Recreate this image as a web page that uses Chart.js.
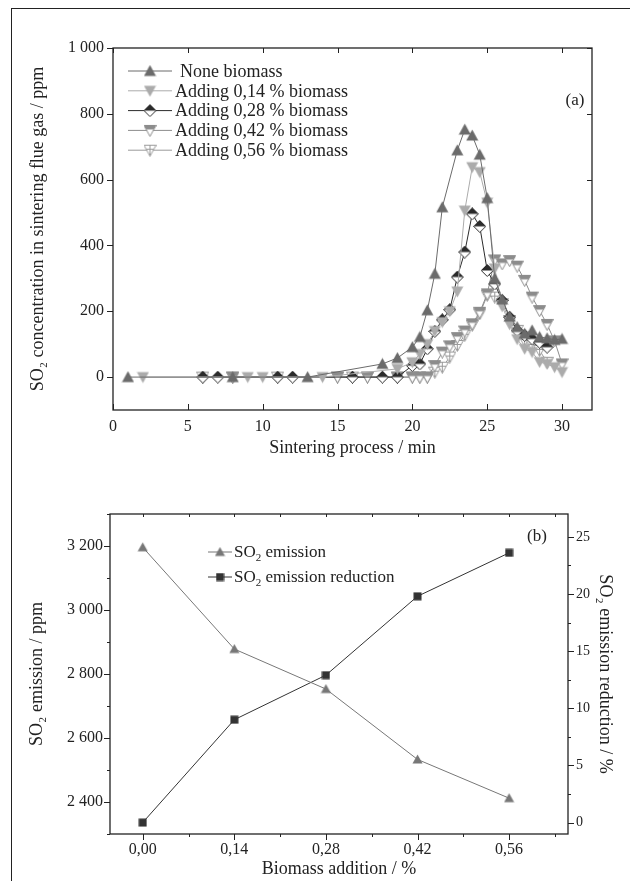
<!DOCTYPE html>
<html lang="en">
<head>
<meta charset="UTF-8">
<title>SO2 during sintering with biomass addition</title>
<style>
  body { margin: 0; background: #fff; }
  #page { position: relative; width: 630px; height: 881px; overflow: hidden; }
  #frame { position: absolute; left: 11px; top: 8px; width: 640px; height: 900px;
           border-left: 1.5px solid #222; border-top: 1.5px solid #222; }
  canvas { position: absolute; left: 0; }
  #chartA { top: 0; }
  #chartB { top: 470px; }
</style>
</head>
<body>
<div id="page">
  <div id="frame"></div>
  <canvas id="chartA" width="630" height="470"></canvas>
  <canvas id="chartB" width="630" height="411"></canvas>
</div>

<script src="https://cdn.jsdelivr.net/npm/chart.js"></script>
<script>
// (a) SO2 in sintering flue gas: time (min) / ppm, one pair of arrays per series
var noneT = [1, 8, 13, 18, 19, 20, 20.5, 21, 21.5, 22, 23, 23.5, 24, 24.5, 25, 25.5, 26, 26.5, 27, 27.5, 28, 28.5, 29, 29.5, 30];
var noneV = [0, 0, 0, 40, 58, 91, 122, 203, 314, 516, 689, 752, 734, 676, 544, 300, 236, 184, 152, 132, 142, 122, 118, 113, 116];

var add014T = [2, 9, 10, 14, 19, 20, 20.5, 21, 21.5, 22, 22.5, 23, 23.5, 24, 24.5, 25, 25.5, 26, 26.5, 27, 27.5, 28, 28.5, 29, 29.5, 30];
var add014V = [0, 0, 0, 0, 25, 45, 70, 100, 140, 167, 200, 260, 506, 638, 623, 530, 330, 215, 160, 115, 86, 76, 46, 40, 30, 15];

var add028T = [6, 7, 11, 12, 16, 18, 19, 20, 20.5, 21, 21.5, 22, 22.5, 23, 23.5, 24, 24.5, 25, 25.5, 26, 26.5, 27, 27.5, 28, 28.5, 29];
var add028V = [0, 0, 0, 0, 0, 0, 0, 35, 40, 86, 139, 174, 205, 304, 380, 496, 458, 324, 283, 233, 182, 142, 127, 116, 106, 91];

var add042T = [8, 15, 17, 19, 20, 20.5, 21, 21.5, 22, 22.5, 23, 23.5, 24, 24.5, 25, 25.5, 26, 26.5, 27, 27.5, 28, 28.5, 29, 29.5, 30];
var add042V = [0, 0, 0, 0, 0, 0, 0, 35, 76, 95, 120, 140, 162, 197, 253, 356, 344, 354, 337, 294, 243, 202, 160, 110, 40];

var add056T = [6, 8, 11, 15, 16, 17, 19, 20, 20.5, 21, 21.5, 22, 22.5, 23, 23.5, 24, 24.5, 25, 25.5, 26, 26.5, 27, 27.5, 28, 28.5, 29];
var add056V = [0, 0, 0, 0, 0, 0, 0, 0, 0, 0, 15, 30, 61, 96, 127, 157, 192, 248, 243, 223, 172, 142, 111, 96, 81, 45];

var ticksAx = [0, 5, 10, 15, 20, 25, 30];
var ticksAy = [0, 200, 400, 600, 800, 1000];

// (b) emission vs biomass addition
var biomass = [0, 0.14, 0.28, 0.42, 0.56];
var emission = [3196, 2878, 2753, 2533, 2412];     // ppm
var reduction = [0, 9.0, 12.9, 19.8, 23.6];        // %

var ticksBx = [0, 0.14, 0.28, 0.42, 0.56];
var ticksBy = [2400, 2600, 2800, 3000, 3200];
var ticksBy2 = [0, 5, 10, 15, 20, 25];

Chart.defaults.font.family = '"Liberation Serif", "Times New Roman", "DejaVu Serif", serif';
Chart.defaults.color = '#222';

// little marker images
function mk(size, draw) {
  var c = document.createElement('canvas');
  c.width = size; c.height = size;
  var g = c.getContext('2d');
  g.lineWidth = 1;
  draw(g, size);
  return c;
}
function tri(g, s, up) {
  g.beginPath();
  if (up) { g.moveTo(s / 2, 0.5); g.lineTo(s - 0.5, s - 1.5); g.lineTo(0.5, s - 1.5); }
  else { g.moveTo(0.5, 1.5); g.lineTo(s - 0.5, 1.5); g.lineTo(s / 2, s - 0.5); }
  g.closePath();
}
var mNone = mk(13, function (g, s) { tri(g, s, true); g.fillStyle = '#6b6b6b'; g.fill(); });
var m014 = mk(13, function (g, s) { tri(g, s, false); g.fillStyle = '#ababab'; g.fill(); });
var m028 = mk(13, function (g, s) {
  g.beginPath(); g.moveTo(6.5, 0.5); g.lineTo(12.5, 6.5); g.lineTo(6.5, 12.5); g.lineTo(0.5, 6.5); g.closePath();
  g.fillStyle = '#fff'; g.fill();
  g.save(); g.clip(); g.fillStyle = '#2b2b2b'; g.fillRect(0, 0, 13, 6.5); g.restore();
  g.strokeStyle = '#2b2b2b'; g.stroke();
});
var m042 = mk(13, function (g, s) {
  tri(g, s, false); g.fillStyle = '#fff'; g.fill();
  g.save(); g.clip(); g.fillStyle = '#8c8c8c'; g.fillRect(0, 0, 13, 5.5); g.restore();
  g.strokeStyle = '#8c8c8c'; g.stroke();
});
var m056 = mk(13, function (g, s) {
  tri(g, s, false); g.fillStyle = '#fff'; g.fill();
  g.strokeStyle = '#9a9a9a'; g.stroke();
  g.beginPath(); g.moveTo(6.5, 1.5); g.lineTo(6.5, 12); g.moveTo(3, 5.5); g.lineTo(10, 5.5); g.stroke();
});
var mEmis = mk(11, function (g, s) { tri(g, s, true); g.fillStyle = '#777'; g.fill(); });
var mRed = mk(9, function (g) { g.fillStyle = '#333'; g.fillRect(0.5, 0.5, 8, 8); });

function pts(t, v) {
  return t.map(function (x, i) { return { x: x, y: v[i] }; });
}
function series(label, t, v, color, marker, axis) {
  return {
    label: label, data: pts(t, v), showLine: true, yAxisID: axis || 'y',
    borderColor: color, backgroundColor: color, borderWidth: 1,
    pointStyle: marker, pointRadius: 5, pointHoverRadius: 5
  };
}
function thousands(v) { return String(v).replace(/\B(?=(\d{3})+(?!\d))/g, ' '); }

// box round the plot area plus tick marks on its sides
var frameTicks = {
  id: 'frameTicks',
  afterDatasetsDraw: function (chart, args, opts) {
    var ctx = chart.ctx, a = chart.chartArea;
    var normal = { left: [1, 0], right: [-1, 0], top: [0, 1], bottom: [0, -1] };
    ctx.save();
    ctx.strokeStyle = '#222';
    ctx.lineWidth = 1.3;
    ctx.strokeRect(a.left, a.top, a.right - a.left, a.bottom - a.top);
    ctx.lineWidth = 1;
    (opts.marks || []).forEach(function (m) {
      var s = chart.scales[m.scale];
      var n0 = Math.ceil(s.min / m.step - 1e-9), n1 = Math.floor(s.max / m.step + 1e-9);
      var d = normal[m.side], k = m.out ? -m.len : m.len;
      for (var n = n0; n <= n1; n++) {
        var p = Math.round(s.getPixelForValue(n * m.step)) + 0.5;
        var x0, y0;
        if (m.side === 'left') { x0 = a.left; y0 = p; }
        else if (m.side === 'right') { x0 = a.right; y0 = p; }
        else if (m.side === 'top') { x0 = p; y0 = a.top; }
        else { x0 = p; y0 = a.bottom; }
        ctx.beginPath();
        ctx.moveTo(x0, y0);
        ctx.lineTo(x0 + d[0] * k, y0 + d[1] * k);
        ctx.stroke();
      }
    });
    ctx.restore();
  }
};

var legendA = {
  id: 'legendA',
  afterDraw: function (chart) {
    var ctx = chart.ctx;
    ctx.save();
    ctx.font = '18px "Liberation Serif", serif';
    ctx.textBaseline = 'middle';
    chart.data.datasets.forEach(function (ds, i) {
      var y = 71 + i * 19.8;
      ctx.strokeStyle = ds.borderColor;
      ctx.lineWidth = 1;
      ctx.beginPath(); ctx.moveTo(128, y); ctx.lineTo(172, y); ctx.stroke();
      ctx.drawImage(ds.pointStyle, 150 - ds.pointStyle.width / 2, y - ds.pointStyle.height / 2);
      ctx.fillStyle = '#222';
      ctx.fillText(ds.label, i === 0 ? 180 : 175, y + 1);
    });
    ctx.font = '17px "Liberation Serif", serif';
    ctx.textAlign = 'center';
    ctx.fillText('(a)', 575, 101);
    ctx.restore();
  }
};

// text with a subscript 2
function subText(ctx, text, x, y, size) {
  var parts = text.split('\u2082');
  ctx.font = size + 'px "Liberation Serif", serif';
  ctx.fillText(parts[0], x, y);
  x += ctx.measureText(parts[0]).width;
  if (parts.length > 1) {
    ctx.font = Math.round(size * 0.62) + 'px "Liberation Serif", serif';
    ctx.fillText('2', x, y + 5);
    x += ctx.measureText('2').width;
    ctx.font = size + 'px "Liberation Serif", serif';
    ctx.fillText(parts[1], x, y);
  }
}

var legendB = {
  id: 'legendB',
  afterDraw: function (chart) {
    var ctx = chart.ctx;
    ctx.save();
    ctx.textBaseline = 'middle';
    chart.data.datasets.forEach(function (ds, i) {
      var y = 82 + i * 25;
      ctx.strokeStyle = ds.borderColor;
      ctx.lineWidth = 1;
      ctx.beginPath(); ctx.moveTo(208, y); ctx.lineTo(232, y); ctx.stroke();
      ctx.drawImage(ds.pointStyle, 220 - ds.pointStyle.width / 2, y - ds.pointStyle.height / 2);
      ctx.fillStyle = '#222';
      subText(ctx, ds.label, 234, y + 1, 17);
    });
    ctx.font = '17px "Liberation Serif", serif';
    ctx.textAlign = 'center';
    ctx.fillText('(b)', 537, 67);
    ctx.restore();
  }
};

// ---- chart (a)
new Chart(document.getElementById('chartA'), {
  type: 'scatter',
  data: {
    datasets: [
      series('None biomass', noneT, noneV, '#6b6b6b', mNone),
      series('Adding 0,14 % biomass', add014T, add014V, '#ababab', m014),
      series('Adding 0,28 % biomass', add028T, add028V, '#2b2b2b', m028),
      series('Adding 0,42 % biomass', add042T, add042V, '#8c8c8c', m042),
      series('Adding 0,56 % biomass', add056T, add056V, '#9a9a9a', m056)
    ]
  },
  options: {
    responsive: false,
    animation: false,
    layout: { padding: { top: 48, right: 38, left: 0, bottom: 0 } },
    plugins: {
      legend: { display: false },
      tooltip: { enabled: false },
      frameTicks: {
        marks: [
          { scale: 'x', side: 'bottom', step: 5, len: 6, out: false },
          { scale: 'x', side: 'top', step: 5, len: 5, out: false },
          { scale: 'y', side: 'left', step: 200, len: 6, out: true },
          { scale: 'y', side: 'right', step: 200, len: 5, out: false }
        ]
      }
    },
    scales: {
      x: {
        type: 'linear', min: 0, max: 32,
        grid: { display: false, drawTicks: false }, border: { display: false },
        afterBuildTicks: function (s) { s.ticks = ticksAx.map(function (v) { return { value: v }; }); },
        afterFit: function (s) { s.height = 60; },
        ticks: { padding: 7, maxRotation: 0, font: { size: 16 } },
        title: { display: true, text: 'Sintering process / min', font: { size: 18 }, padding: { top: 0, bottom: 11 } }
      },
      y: {
        type: 'linear', min: -100, max: 1000,
        grid: { display: false, drawTicks: false }, border: { display: false },
        afterBuildTicks: function (s) { s.ticks = ticksAy.map(function (v) { return { value: v }; }); },
        afterFit: function (s) { s.width = 113; },
        ticks: { padding: 9, font: { size: 16 }, callback: thousands },
        title: { display: true, text: 'SO\u2082 concentration in sintering flue gas / ppm', font: { size: 18 }, padding: { top: 27, bottom: 0 } }
      }
    }
  },
  plugins: [frameTicks, legendA]
});

// ---- chart (b)
new Chart(document.getElementById('chartB'), {
  type: 'scatter',
  data: {
    datasets: [
      series('SO\u2082 emission', biomass, emission, '#777777', mEmis, 'y'),
      series('SO\u2082 emission reduction', biomass, reduction, '#333333', mRed, 'y2')
    ]
  },
  options: {
    responsive: false,
    animation: false,
    layout: { padding: { top: 44, right: 0, left: 0, bottom: 0 } },
    plugins: {
      legend: { display: false },
      tooltip: { enabled: false },
      frameTicks: {
        marks: [
          { scale: 'x', side: 'bottom', step: 0.14, len: 6, out: true },
          { scale: 'x', side: 'bottom', step: 0.07, len: 3, out: true },
          { scale: 'x', side: 'top', step: 0.07, len: 3, out: false },
          { scale: 'y', side: 'left', step: 200, len: 6, out: true },
          { scale: 'y', side: 'left', step: 100, len: 3, out: true },
          { scale: 'y2', side: 'right', step: 5, len: 6, out: true },
          { scale: 'y2', side: 'right', step: 2.5, len: 3, out: true }
        ]
      }
    },
    scales: {
      x: {
        type: 'linear', min: -0.05, max: 0.65,
        grid: { display: false, drawTicks: false }, border: { display: false },
        afterBuildTicks: function (s) { s.ticks = ticksBx.map(function (v) { return { value: v }; }); },
        afterFit: function (s) { s.height = 47; },
        ticks: { padding: 6, maxRotation: 0, font: { size: 16 },
                 callback: function (v) { return v.toFixed(2).replace('.', ','); } },
        title: { display: true, text: 'Biomass addition / %', font: { size: 18 }, padding: { top: 0, bottom: 1 } }
      },
      y: {
        type: 'linear', position: 'left', min: 2300, max: 3300,
        grid: { display: false, drawTicks: false }, border: { display: false },
        afterBuildTicks: function (s) { s.ticks = ticksBy.map(function (v) { return { value: v }; }); },
        afterFit: function (s) { s.width = 110; },
        ticks: { padding: 7, font: { size: 16 }, callback: thousands },
        title: { display: true, text: 'SO\u2082 emission / ppm', font: { size: 18 }, padding: { top: 26, bottom: 0 } }
      },
      y2: {
        type: 'linear', position: 'right', min: -1, max: 27,
        grid: { display: false, drawTicks: false }, border: { display: false },
        afterBuildTicks: function (s) { s.ticks = ticksBy2.map(function (v) { return { value: v }; }); },
        afterFit: function (s) { s.width = 62; },
        ticks: { padding: 8, font: { size: 14 } },
        title: { display: true, text: 'SO\u2082 emission reduction / %', font: { size: 18 }, padding: { top: 14, bottom: 0 } }
      }
    }
  },
  plugins: [frameTicks, legendB]
});
</script>
</body>
</html>
